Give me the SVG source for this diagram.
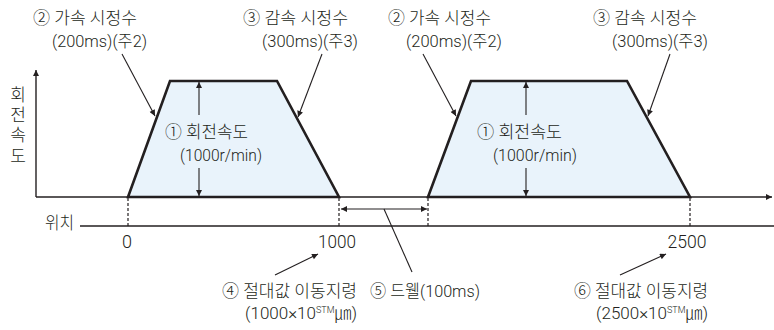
<svg xmlns="http://www.w3.org/2000/svg" width="774" height="330" viewBox="0 0 774 330">
<style>
text{font-family:Roboto,"Noto Sans CJK KR",sans-serif;font-size:17px;font-weight:300;fill:#231f20}
.n{font-size:18px}
.ax{stroke:#231f20;stroke-width:1.4;fill:none}
.ln{stroke:#231f20;stroke-width:1.1;fill:none}
.tr{stroke:#231f20;stroke-width:2.6;fill:#e9f3fb;stroke-linejoin:miter}
.ds{stroke:#231f20;stroke-width:1.2;stroke-dasharray:3 2;fill:none}
</style>
<defs>
<marker id="ah" viewBox="0 0 10 10" refX="10" refY="5" markerWidth="8" markerHeight="6" markerUnits="userSpaceOnUse" orient="auto-start-reverse">
<path d="M0,0 L10,5 L0,10 z" fill="#231f20"/>
</marker>
</defs>

<g id="profiles">
<polygon id="trap1" class="tr" points="128,197 170,81 277,81 339,197"/>
<polygon id="trap2" class="tr" points="428,197 471,81 627,81 690,197"/>
</g>

<g id="axes">
<line class="ax" x1="36" y1="197" x2="772" y2="197" marker-end="url(#ah)"/>
<line class="ax" x1="36" y1="197" x2="36" y2="70" marker-end="url(#ah)"/>
<line class="ax" x1="80" y1="226" x2="774" y2="226"/>
</g>

<g id="connectors">
<line class="ln" x1="199" y1="115" x2="199" y2="82" marker-end="url(#ah)"/>
<line class="ln" x1="199" y1="168" x2="199" y2="196" marker-end="url(#ah)"/>
<line class="ln" x1="526" y1="115" x2="526" y2="82" marker-end="url(#ah)"/>
<line class="ln" x1="526" y1="168" x2="526" y2="196" marker-end="url(#ah)"/>
<line class="ln" x1="122" y1="54" x2="155" y2="116" marker-end="url(#ah)"/>
<line class="ln" x1="322" y1="54" x2="298" y2="117" marker-end="url(#ah)"/>
<line class="ln" x1="423" y1="54" x2="456" y2="116" marker-end="url(#ah)"/>
<line class="ln" x1="670" y1="54" x2="648" y2="116" marker-end="url(#ah)"/>
<line class="ds" x1="128" y1="198" x2="128" y2="226"/>
<line class="ds" x1="339" y1="198" x2="339" y2="226"/>
<line class="ds" x1="428" y1="198" x2="428" y2="226"/>
<line class="ds" x1="690" y1="198" x2="690" y2="226"/>
<line class="ln" x1="341" y1="209" x2="427" y2="209" marker-start="url(#ah)" marker-end="url(#ah)"/>
<line class="ln" x1="384" y1="209" x2="412" y2="272"/>
<line class="ln" x1="275" y1="275" x2="318" y2="254" marker-end="url(#ah)"/>
<line class="ln" x1="620" y1="275" x2="666" y2="254" marker-end="url(#ah)"/>
</g>

<g id="label-accel1">
<text x="33" y="24" textLength="104" lengthAdjust="spacingAndGlyphs">② 가속 시정수</text>
<text x="52" y="47" textLength="95" lengthAdjust="spacingAndGlyphs">(200ms)(주2)</text>
</g>
<g id="label-decel1">
<text x="243" y="24" textLength="105" lengthAdjust="spacingAndGlyphs">③ 감속 시정수</text>
<text x="262" y="47" textLength="96" lengthAdjust="spacingAndGlyphs">(300ms)(주3)</text>
</g>
<g id="label-accel2">
<text x="388" y="24" textLength="103" lengthAdjust="spacingAndGlyphs">② 가속 시정수</text>
<text x="406" y="47" textLength="96" lengthAdjust="spacingAndGlyphs">(200ms)(주2)</text>
</g>
<g id="label-decel2">
<text x="593" y="24" textLength="104" lengthAdjust="spacingAndGlyphs">③ 감속 시정수</text>
<text x="612" y="47" textLength="96" lengthAdjust="spacingAndGlyphs">(300ms)(주3)</text>
</g>

<g id="label-speed1">
<text x="165" y="138" textLength="83" lengthAdjust="spacingAndGlyphs">① 회전속도</text>
<text x="180" y="161" textLength="82" lengthAdjust="spacingAndGlyphs">(1000r/min)</text>
</g>
<g id="label-speed2">
<text x="477" y="138" textLength="85" lengthAdjust="spacingAndGlyphs">① 회전속도</text>
<text x="493" y="161" textLength="84" lengthAdjust="spacingAndGlyphs">(1000r/min)</text>
</g>

<g id="axis-labels">
<text x="18" y="101" text-anchor="middle">회</text>
<text x="18" y="121" text-anchor="middle">전</text>
<text x="18" y="141" text-anchor="middle">속</text>
<text x="18" y="162" text-anchor="middle">도</text>
<text x="45" y="229" textLength="29" lengthAdjust="spacingAndGlyphs">위치</text>
</g>

<g id="positions">
<text class="n" x="127" y="248" text-anchor="middle" textLength="10" lengthAdjust="spacingAndGlyphs">0</text>
<text class="n" x="337" y="248" text-anchor="middle" textLength="38" lengthAdjust="spacingAndGlyphs">1000</text>
<text class="n" x="687" y="248" text-anchor="middle" textLength="39" lengthAdjust="spacingAndGlyphs">2500</text>
</g>

<g id="label-move1">
<text x="222" y="297" textLength="135" lengthAdjust="spacingAndGlyphs">④ 절대값 이동지령</text>
<text x="357" y="319" text-anchor="end">(1000×10<tspan font-size="9" dy="-6">STM</tspan><tspan dy="6">㎛</tspan>)</text>
</g>
<g id="label-dwell">
<text x="370" y="297" textLength="110" lengthAdjust="spacingAndGlyphs">⑤ 드웰(100ms)</text>
</g>
<g id="label-move2">
<text x="574" y="297" textLength="134" lengthAdjust="spacingAndGlyphs">⑥ 절대값 이동지령</text>
<text x="708" y="319" text-anchor="end">(2500×10<tspan font-size="9" dy="-6">STM</tspan><tspan dy="6">㎛</tspan>)</text>
</g>
</svg>
